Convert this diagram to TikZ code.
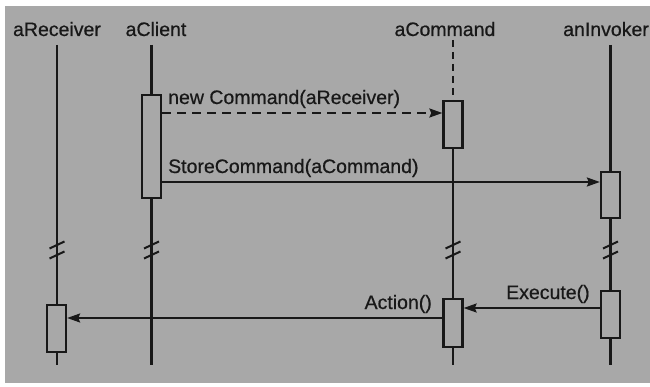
\documentclass[tikz,border=0pt]{standalone}
\usepackage{fontspec}
\setmainfont{Liberation Sans}
\newfontfamily\lblfont[FakeBold=0.6]{Liberation Sans}
\usetikzlibrary{arrows.meta}
\definecolor{paper}{RGB}{168,168,168}
\definecolor{ink}{RGB}{24,24,24}
\begin{document}
\begin{tikzpicture}[x=1pt,y=-1pt,
  lbl/.style={font=\lblfont\fontsize{19.5}{20}\selectfont, text=ink, inner sep=0pt},
  life/.style={draw=ink, line width=2.3pt},
  actbox/.style={draw=ink, fill=paper, line width=2.3pt, minimum width=19pt, inner sep=0pt},
  msg/.style={draw=ink, line width=2.3pt, -{Stealth[length=13pt,width=9pt,inset=2pt]}},
  brk/.style={draw=ink, line width=2pt}]
\path[use as bounding box, fill=white] (0,0) rectangle (650,387);
\fill[paper] (5,6) rectangle (650,383);
% heads
\node[lbl, anchor=base] (hR) at (57,36) {aReceiver};
\node[lbl, anchor=base] (hC) at (156,36) {aClient};
\node[lbl, anchor=base] (hM) at (445,36) {aCommand};
\node[lbl, anchor=base west] (hI) at (563,36) {anInvoker};
% lifeline ends
\coordinate (rTop) at (57,45);  \coordinate (rBot) at (57,365);
\coordinate (cTop) at (151.5,45); \coordinate (cBot) at (151.5,365);
\coordinate (mTop) at (453,40); \coordinate (mMid) at (453,101); \coordinate (mBot) at (453,365);
\coordinate (iTop) at (610.5,45); \coordinate (iBot) at (610.5,365);
% lifelines
\draw[life] (rTop) -- (rBot);
\draw[life] (cTop) -- (cBot);
\draw[life, dash pattern=on 7pt off 5pt] (mTop) -- (mMid);
\draw[life] (mMid) -- (mBot);
\draw[life] (iTop) -- (iBot);
% activation boxes
\path (151.5,146.5) node[actbox, minimum height=103pt] (cbox) {};
\path (453,124.5) node[actbox, minimum height=47pt] (mbox1) {};
\path (610.5,195) node[actbox, minimum height=46pt] (ibox1) {};
\path (56.5,328.5) node[actbox, minimum height=47pt] (rbox) {};
\path (453,323) node[actbox, minimum height=48pt] (mbox2) {};
\path (610.5,314.5) node[actbox, minimum height=47pt] (ibox2) {};
% break marks
\foreach \x in {57,151.5,453,610.5}
  \foreach \y in {245,255}
    \draw[brk] (\x-7.5,\y+3.5) -- (\x+7.5,\y-3.5);
% messages
\coordinate (y1) at (0,113);
\coordinate (y2) at (0,182);
\coordinate (y3) at (0,308);
\coordinate (y4) at (0,318);
\draw[msg, dash pattern=on 9pt off 6pt] (cbox.east |- y1) -- (mbox1.west |- y1);
\draw[msg] (cbox.east |- y2) -- (ibox1.west |- y2);
\draw[msg] (ibox2.west |- y3) -- (mbox2.east |- y3);
\draw[msg] (mbox2.west |- y4) -- (rbox.east |- y4);
% labels
\node[lbl, anchor=base west] (l1) at (168,104) {new Command(aReceiver)};
\node[lbl, anchor=base west] (l2) at (168,173) {StoreCommand(aCommand)};
\node[lbl, anchor=base east] (l3) at (432,309) {Action()};
\node[lbl, anchor=base west] (l4) at (506,299) {Execute()};
\end{tikzpicture}
\end{document}
